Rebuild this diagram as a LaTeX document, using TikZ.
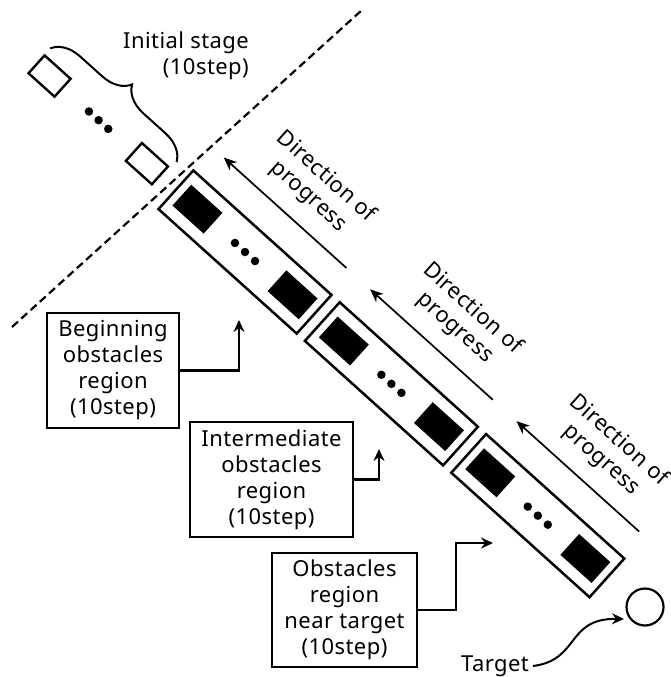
\documentclass[tikz,border=0pt]{standalone}
\usepackage{fontspec}
\setmainfont{Noto Sans}[LetterSpace=2]
\usetikzlibrary{arrows.meta, positioning, decorations.pathreplacing}
\tikzset{
  strip/.style={draw, line width=2.5pt, minimum width=186pt, minimum height=52pt, inner sep=0pt, transform shape},
  obst/.style={fill=black, minimum width=42pt, minimum height=28pt, inner sep=0pt, transform shape},
  initbox/.style={draw, line width=2.4pt, minimum width=35pt, minimum height=24pt, inner sep=0pt, transform shape},
  obsdot/.style={circle, fill=black, minimum size=8.5pt, inner sep=0pt},
  dirtext/.style={align=center, inner sep=0pt, transform shape},
  regionbox/.style={draw, line width=1.2pt, align=center, inner sep=0pt},
  progress/.style={-{Stealth[length=13pt, width=11pt, inset=4pt]}, line width=1.7pt},
  conn/.style={-{Stealth[length=12pt, width=11pt, inset=4pt]}, line width=2.2pt}
}

\begin{document}
\begin{tikzpicture}[x=1pt, y=1pt, font=\fontsize{22}{26}\selectfont]
\useasboundingbox (0,0) rectangle (671,-677);
\coordinate (cut1) at (12,-327);
\coordinate (cut2) at (362,-10);
\draw[line width=2.2pt, dash pattern=on 8pt off 4.5pt] (cut1) -- (cut2);

\begin{scope}[shift={(245,-252)}, rotate=-42]
\node[initbox] (i1) at (-263,0) {};
\node[initbox] (i2) at (-132,0) {};
\node[obsdot] at (-210,0) {};
\node[obsdot] at (-197,0) {};
\node[obsdot] at (-184,0) {};
\coordinate (br1) at (-281,21);
\coordinate (br2) at (-111,21);
\draw[line width=2pt, decorate, decoration={brace, amplitude=28pt}] (br1) -- (br2);

\node[strip] (s1) at (0,0) {};
\node[obst] (o1a) at (-64,0) {};
\node[obst] (o1b) at (64,0) {};
\node[obsdot] at (-13.5,0) {};
\node[obsdot] at (0,0) {};
\node[obsdot] at (13.5,0) {};
\coordinate (p1) at (86,56);
\coordinate (q1) at (-79,56);
\draw[progress] (p1) -- (q1);
\node[dirtext] (d1) at (10,97) {Direction of\\progress};

\node[strip] (s2) at (197,0) {};
\node[obst] (o2a) at (133,0) {};
\node[obst] (o2b) at (261,0) {};
\node[obsdot] at (183.5,0) {};
\node[obsdot] at (197,0) {};
\node[obsdot] at (210.5,0) {};
\coordinate (p2) at (283,56);
\coordinate (q2) at (118,56);
\draw[progress] (p2) -- (q2);
\node[dirtext] (d2) at (207,97) {Direction of\\progress};

\node[strip] (s3) at (394,0) {};
\node[obst] (o3a) at (330,0) {};
\node[obst] (o3b) at (458,0) {};
\node[obsdot] at (380.5,0) {};
\node[obsdot] at (394,0) {};
\node[obsdot] at (407.5,0) {};
\coordinate (p3) at (480,56);
\coordinate (q3) at (315,56);
\draw[progress] (p3) -- (q3);
\node[dirtext] (d3) at (404,97) {Direction of\\progress};
\end{scope}

\node[circle, draw, line width=2.2pt, minimum size=37pt, inner sep=0pt] (goal) at (645,-607) {};

\node[anchor=north east, align=right, inner sep=0pt] (init) at (249,-32) {Initial stage\\(10step)};

\node[regionbox, minimum width=132pt, minimum height=115pt] (b1) at (113,-370.5) {Beginning\\obstacles\\region\\(10step)};
\node[regionbox, minimum width=163pt, minimum height=115pt] (b2) at (271.5,-479.5) {Intermediate\\obstacles\\region\\(10step)};
\node[regionbox, minimum width=145pt, minimum height=114pt] (b3) at (344.5,-610) {Obstacles\\region\\near target\\(10step)};

\coordinate (t1) at (239,-320);
\coordinate (t2) at (379,-449);
\coordinate (t3) at (493,-543);
\draw[conn] (b1.east) -| (t1);
\draw[conn] (b2.east) -| (t2);
\draw[conn] (b3.east) -- ++(38,0) |- (t3);

\node[inner sep=0pt] (tgt) at (495,-666) {Target};
\draw[conn, line width=2pt] ([xshift=4pt]tgt.east) .. controls (580,-660) and (566,-618) .. (624,-619);
\end{tikzpicture}
\end{document}
